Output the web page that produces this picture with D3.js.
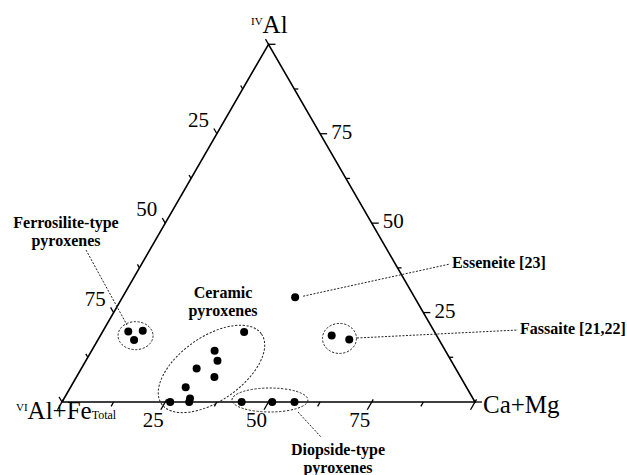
<!DOCTYPE html>
<html>
<head>
<meta charset="utf-8">
<script src="https://cdn.jsdelivr.net/npm/d3@7/dist/d3.min.js"></script>
<style>
  body { margin: 0; background: #fff; }
  text { font-family: "Liberation Serif", "DejaVu Serif", serif; fill: #000; }
</style>
</head>
<body>
<div id="chart"></div>
<script>
// tick values on every side (percent)
var tickValues = [0, 12.5, 25, 37.5, 50, 62.5, 75, 87.5, 100];
var tickLabels = [25, 50, 75];
var majorTicks = [0, 25, 50, 75, 100];

// points as [Ca+Mg, IVAl] in percent, VIAl+FeTotal is the rest
var ferrosilite = [[6.2, 19.7], [9.6, 19.9], [8.8, 17.3]];
var ceramic = [[26.2, 0], [30.5, 1.0], [30.8, 0], [27.9, 4.1], [27.9, 9.4],
               [29.8, 14.3], [31.9, 11.5], [33.4, 7.0], [34.3, 19.6]];
var diopside = [[43.5, 0], [50.9, 0], [56.3, 0]];
var esseneite = [[41.8, 29.3]];
var fassaite = [[56.0, 18.6], [60.8, 17.5]];

var width = 627, height = 475;

var svg = d3.select("#chart")
    .append("svg")
    .attr("width", width)
    .attr("height", height);

// base scale runs along the bottom edge, y scale is the IVAl height
var x = d3.scaleLinear().domain([0, 100]).range([62, 475]);
var y = d3.scaleLinear().domain([0, 100]).range([402, 44.3]);

function pos(ca, al) {
    return [x(ca + al / 2), y(al)];
}

// triangle
svg.append("path")
    .attr("d", d3.line()([pos(0, 100), pos(0, 0), pos(100, 0)]) + "Z")
    .attr("fill", "none")
    .attr("stroke", "#000")
    .attr("stroke-width", 1.6)
    .attr("stroke-linejoin", "miter");

// the three sides: where a value sits, which way the tick points
var sides = [
    { at: function(v) { return pos(v, 0); }, dir: [-0.5, 0.866], major: [-3, 9], minor: [0, 5] },          // Ca+Mg
    { at: function(v) { return pos(100 - v, v); }, dir: [1, 0], major: [0, 7], minor: [0, 4] },             // IVAl
    { at: function(v) { return pos(0, 100 - v); }, dir: [-0.5, -0.866], major: [0, 6], minor: [0, 4] }       // VIAl+Fe
];

sides.forEach(function(s, i) {
    function len(v) { return majorTicks.indexOf(v) >= 0 ? s.major : s.minor; }
    svg.append("g")
        .selectAll("line")
        .data(tickValues)
        .enter()
        .append("line")
        .attr("x1", function(v) { return s.at(v)[0] + s.dir[0] * len(v)[0]; })
        .attr("y1", function(v) { return s.at(v)[1] + s.dir[1] * len(v)[0]; })
        .attr("x2", function(v) { return s.at(v)[0] + s.dir[0] * len(v)[1]; })
        .attr("y2", function(v) { return s.at(v)[1] + s.dir[1] * len(v)[1]; })
        .attr("stroke", "#000")
        .attr("stroke-width", 1.3);

    var lab = svg.append("g")
        .selectAll("text")
        .data(tickLabels)
        .enter()
        .append("text")
        .style("font-size", "21px")
        .text(function(v) { return v; });

    if (i == 0) {
        lab.attr("x", function(v) { return s.at(v)[0] - 12; })
           .attr("y", function(v) { return s.at(v)[1] + 25; })
           .attr("text-anchor", "middle");
    } else if (i == 1) {
        lab.attr("x", function(v) { return s.at(v)[0] + 11; })
           .attr("y", function(v) { return s.at(v)[1] + 5; })
           .attr("text-anchor", "start");
    } else {
        lab.attr("x", function(v) { return s.at(v)[0] - 8; })
           .attr("y", function(v) { return s.at(v)[1] - 7; })
           .attr("text-anchor", "end");
    }
});

// corner labels
var topLab = svg.append("text").attr("x", 251).attr("y", 33);
topLab.append("tspan").style("font-size", "11px").attr("dy", -8).text("IV");
topLab.append("tspan").style("font-size", "25px").attr("dy", 8).text("Al");

var leftLab = svg.append("text").attr("x", 16).attr("y", 419);
leftLab.append("tspan").style("font-size", "11px").attr("dy", -8).text("VI");
leftLab.append("tspan").style("font-size", "25px").attr("dy", 8).text("Al+Fe");
leftLab.append("tspan").style("font-size", "12px").text("Total");

svg.append("text")
    .attr("x", 483)
    .attr("y", 413)
    .style("font-size", "25px")
    .text("Ca+Mg");

// dashed rings round the groups
var dash = "2.2,1.6";
function centroid(arr) {
    var p = arr.map(function(d) { return pos(d[0], d[1]); });
    return [d3.mean(p, function(d) { return d[0]; }), d3.mean(p, function(d) { return d[1]; })];
}
var rings = [
    { c: centroid(ferrosilite), rx: 17.5, ry: 14, rot: 0, dx: 0.5, dy: 1.5 },
    { c: centroid(ceramic), rx: 61, ry: 32, rot: -35, dx: 9, dy: -6.5 },
    { c: centroid(diopside), rx: 38, ry: 12, rot: 0, dx: 0.5, dy: -2 },
    { c: centroid(fassaite), rx: 17, ry: 15, rot: 0, dx: -1, dy: 1 }
];
svg.append("g")
    .selectAll("ellipse")
    .data(rings)
    .enter()
    .append("ellipse")
    .attr("transform", function(d) { return "translate(" + (d.c[0] + d.dx) + "," + (d.c[1] + d.dy) + ") rotate(" + d.rot + ")"; })
    .attr("rx", function(d) { return d.rx; })
    .attr("ry", function(d) { return d.ry; })
    .attr("fill", "none")
    .attr("stroke", "#222")
    .attr("stroke-width", 1)
    .attr("stroke-dasharray", dash);

// leader lines
var ess = pos(esseneite[0][0], esseneite[0][1]);
var leaders = [
    [[86, 250], [127, 325]],
    [[ess[0] + 8, ess[1] - 1], [450, 264]],
    [[357, 338], [518, 330]],
    [[298, 412], [321, 437]]
];
svg.append("g")
    .selectAll("line")
    .data(leaders)
    .enter()
    .append("line")
    .attr("x1", function(d) { return d[0][0]; })
    .attr("y1", function(d) { return d[0][1]; })
    .attr("x2", function(d) { return d[1][0]; })
    .attr("y2", function(d) { return d[1][1]; })
    .attr("stroke", "#222")
    .attr("stroke-width", 1)
    .attr("stroke-dasharray", "2,1.5");

// points
var allPoints = [].concat(ferrosilite, ceramic, diopside, esseneite, fassaite);
svg.append("g")
    .selectAll("circle")
    .data(allPoints)
    .enter()
    .append("circle")
    .attr("cx", function(d) { return pos(d[0], d[1])[0]; })
    .attr("cy", function(d) { return pos(d[0], d[1])[1]; })
    .attr("r", 4)
    .attr("fill", "#000");

// group labels
var notes = [
    { lines: ["Ferrosilite-type", "pyroxenes"], x: 66, y: 228, anchor: "middle" },
    { lines: ["Ceramic", "pyroxenes"], x: 223, y: 298, anchor: "middle" },
    { lines: ["Diopside-type", "pyroxenes"], x: 338, y: 455, anchor: "middle" },
    { lines: ["Esseneite [23]"], x: 452, y: 268, anchor: "start" },
    { lines: ["Fassaite [21,22]"], x: 520, y: 334, anchor: "start" }
];
notes.forEach(function(n) {
    var t = svg.append("text")
        .attr("text-anchor", n.anchor)
        .style("font-size", "16px")
        .style("font-weight", "bold");
    n.lines.forEach(function(s, k) {
        t.append("tspan").attr("x", n.x).attr("y", n.y + k * 18).text(s);
    });
});
</script>
</body>
</html>
